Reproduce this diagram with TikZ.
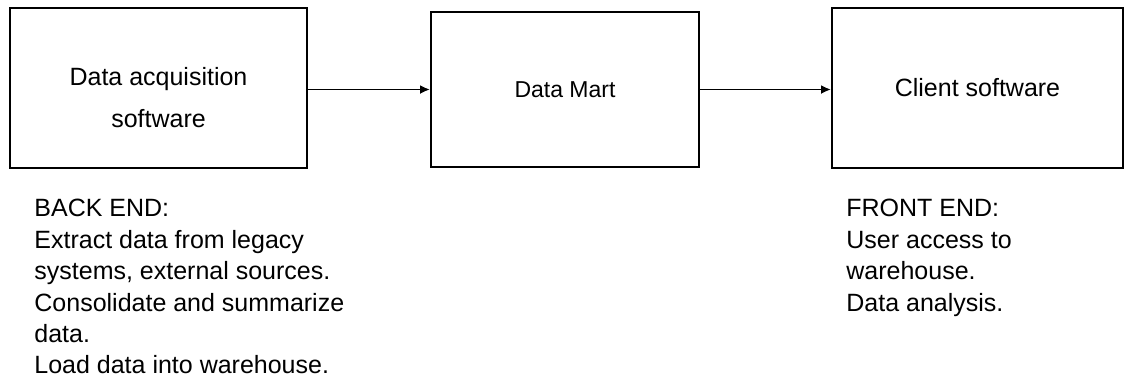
\documentclass[tikz,border=0pt]{standalone}
\usepackage{fontspec}
\setmainfont{Liberation Sans}
\usetikzlibrary{arrows.meta,positioning}

\begin{document}
\begin{tikzpicture}[x=0.5pt,y=-0.5pt,
    stage/.style={draw, line width=1pt, inner sep=0pt, font=\fontsize{12.5}{15}\selectfont},
    boxtext/.style={align=center, inner sep=0pt, font=\fontsize{12.5}{21}\selectfont},
    note/.style={align=left, inner sep=0pt, font=\fontsize{12.5}{15.7}\selectfont},
    flow/.style={-{Latex[length=5pt,width=4.5pt]}, line width=0.9pt}]
    \useasboundingbox (0,0) rectangle (1125,381);
    % the three stages
    \node[stage, minimum width=148.5pt, minimum height=80pt,
          label={[boxtext, yshift=-4.75pt]center:{Data acquisition\\software}}] (acq) at (158.5,88) {};
    \node[stage, minimum width=134pt, minimum height=77.5pt,
          font=\fontsize{11.5}{14}\selectfont] (mart) at (565,89.5) {Data Mart};
    \node[stage, minimum width=145.5pt, minimum height=80pt] (client) at (977.5,88) {Client software};
    % connectors
    \draw[flow] (acq.east |- mart.west) -- (mart.west);
    \draw[flow] (mart.east) -- (client.west |- mart.east);
    % notes below
    \node[note, below right=15pt and 12.5pt of acq.south west] (backend)
        {BACK END:\\Extract data from legacy\\systems, external sources.\\Consolidate and summarize\\data.\\Load data into warehouse.};
    \node[note, below right=15pt and 7.5pt of client.south west] (frontend)
        {FRONT END:\\User access to\\warehouse.\\Data analysis.};
\end{tikzpicture}
\end{document}
